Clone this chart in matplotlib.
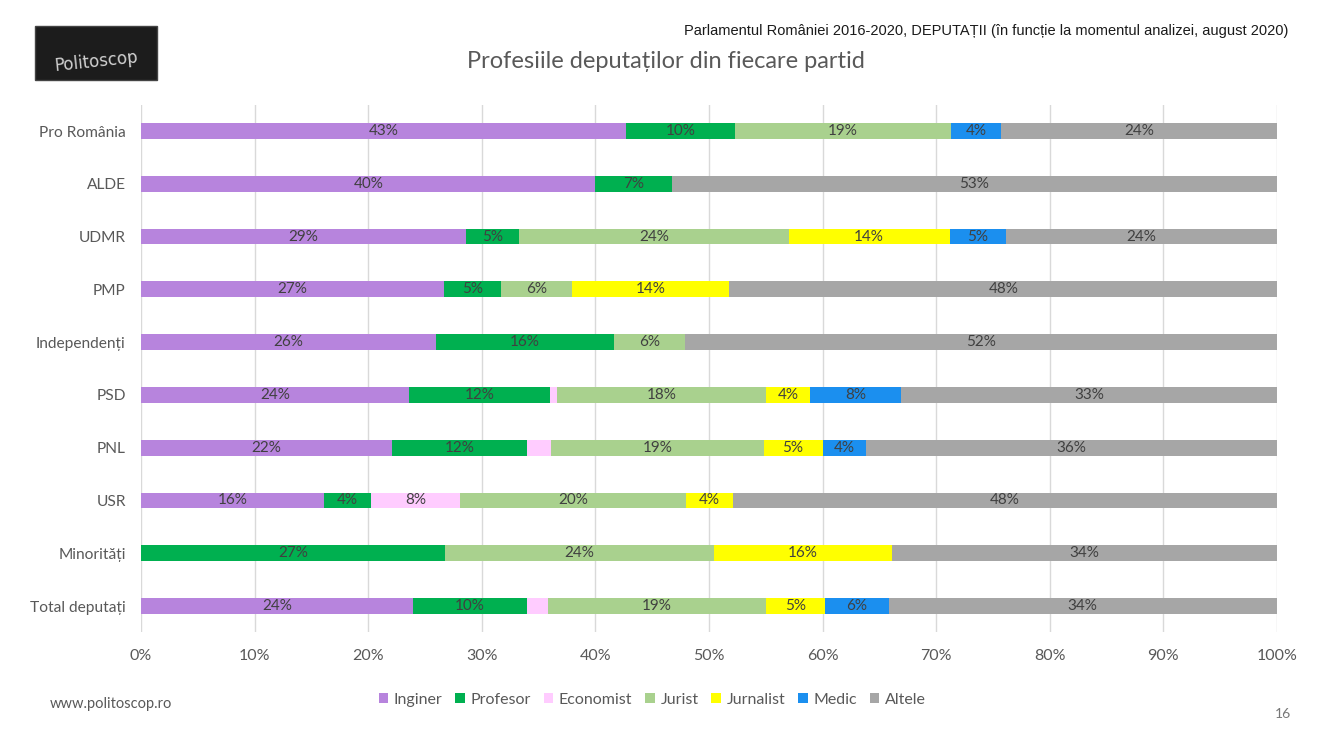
import matplotlib.pyplot as plt
from matplotlib.patches import Rectangle
import numpy as np

parties = ["Pro România", "ALDE", "UDMR", "PMP", "Independenți", "PSD",
           "PNL", "USR", "Minorități", "Total deputați"]
professions = ["Inginer", "Profesor", "Economist", "Jurist", "Jurnalist", "Medic", "Altele"]
colors = ["#B784DD", "#00B050", "#FFCCFF", "#A9D18E", "#FFFF00", "#1B8FEF", "#A6A6A6"]

# share of each profession per party (%), one list per profession
inginer   = [42.7, 40.0, 28.6, 26.7, 26.0, 23.6, 22.1, 16.1, 0.0, 23.9]
profesor  = [9.6, 6.7, 4.7, 5.0, 15.6, 12.4, 11.9, 4.1, 26.8, 10.1]
economist = [0.0, 0.0, 0.0, 0.0, 0.0, 0.6, 2.1, 7.9, 0.0, 1.8]
jurist    = [19.0, 0.0, 23.7, 6.2, 6.3, 18.4, 18.7, 19.9, 23.6, 19.2]
jurnalist = [0.0, 0.0, 14.2, 13.9, 0.0, 3.9, 5.2, 4.1, 15.7, 5.2]
medic     = [4.4, 0.0, 4.9, 0.0, 0.0, 8.0, 3.8, 0.0, 0.0, 5.6]
altele    = [24.3, 53.3, 23.9, 48.2, 52.1, 33.1, 36.2, 47.9, 33.9, 34.2]

series = [inginer, profesor, economist, jurist, jurnalist, medic, altele]
xticks = np.arange(0, 101, 10)

plt.rcParams['font.family'] = ['Lato', 'DejaVu Sans']
gray = "#595959"

fig = plt.figure(figsize=(13.32, 7.5), dpi=100)
ax = fig.add_axes([0.1059, 0.1568, 0.8528, 0.7037])

y = np.arange(len(parties))
left = np.zeros(len(parties))
for name, vals, col in zip(professions, series, colors):
    vals = np.array(vals)
    ax.barh(y, vals, left=left, height=0.3, color=col, label=name, zorder=2)
    for i, v in enumerate(vals):
        if v >= 3:
            ax.text(left[i] + v / 2, y[i], "{:.0f}%".format(v), ha="center", va="center",
                    fontsize=11, color="#404040", zorder=3)
    left += vals

ax.set_xlim(0, 100)
ax.set_ylim(len(parties) - 0.5, -0.5)
ax.set_yticks(y)
ax.set_yticklabels(parties, fontsize=11.2, color=gray)
ax.set_xticks(xticks)
ax.set_xticklabels(["{}%".format(t) for t in xticks], fontsize=11.5, color=gray)
ax.tick_params(length=0, pad=11)
ax.tick_params(axis="x", pad=12)
ax.grid(axis="x", color="#D9D9D9", linewidth=1, zorder=0)
for s in ax.spines.values():
    s.set_visible(False)

ax.legend(loc="center", bbox_to_anchor=(0.45, -0.128), ncol=7, frameon=False,
          fontsize=11.5, handlelength=0.6, handleheight=0.6, handletextpad=0.35,
          columnspacing=0.8, labelcolor=gray)

fig.text(0.5, 0.918, "Profesiile deputaților din fiecare partid", ha="center", va="center",
         fontsize=17, color=gray)
fig.text(0.967, 0.958, "Parlamentul României 2016-2020, DEPUTAȚII (în funcție la momentul analizei, august 2020)",
         ha="right", va="center", fontsize=10.5, color="#1a1a1a", family="Liberation Sans")
fig.text(0.037, 0.061, "www.politoscop.ro", ha="left", va="center", fontsize=10.5, color=gray)
fig.text(0.969, 0.048, "16", ha="right", va="center", fontsize=10, color="#777777")

# logo block
fig.patches.append(Rectangle((0.0263, 0.893), 0.0916, 0.072, transform=fig.transFigure,
                             facecolor="#1c1c1c", edgecolor="#444444", zorder=5))
fig.text(0.072, 0.918, "Politoscop", ha="center", va="center", fontsize=12,
         color="#d0d0d0", rotation=6, zorder=6, family="DejaVu Sans Condensed")

fig.savefig("out.png", dpi=100)
